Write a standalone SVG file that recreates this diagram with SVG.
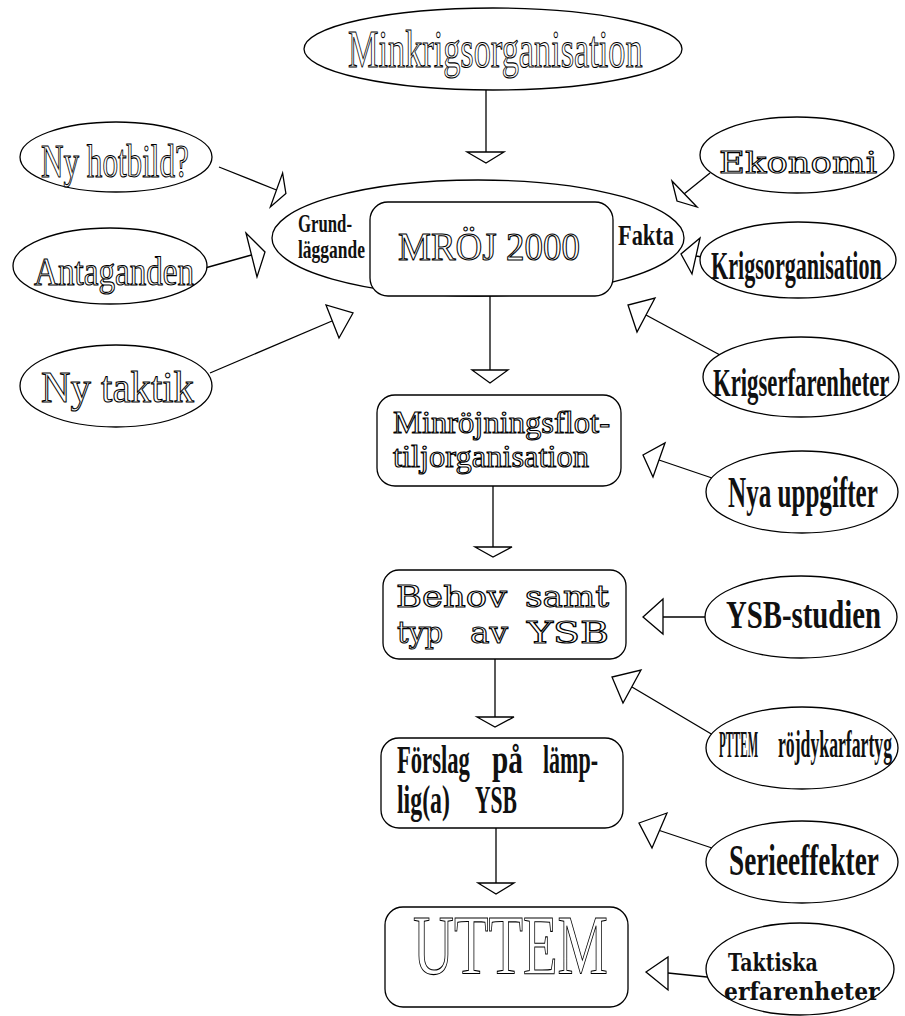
<svg xmlns="http://www.w3.org/2000/svg" width="905" height="1016" viewBox="0 0 905 1016">
<style>
.bg{fill:#fff}
.sh{fill:#fff;stroke:#000;stroke-width:1.3}
.ln{fill:none;stroke:#000;stroke-width:1.3}
.ah{fill:#fff;stroke:#000;stroke-width:1.3;stroke-linejoin:miter}
.ol{font-family:"Liberation Serif","Times New Roman",serif;fill:#fff;stroke:#000;stroke-width:1.1;opacity:0.995}
.olw{font-family:"DejaVu Serif",serif;fill:#fff;stroke:#000;stroke-width:1.1;opacity:0.995}
.bc{font-family:"Liberation Serif","Times New Roman",serif;font-weight:bold;fill:#111}
.bw{font-family:"DejaVu Serif",serif;font-weight:bold;fill:#111}
</style>
<rect class="bg" x="0" y="0" width="905" height="1016"/>

<g id="connectors">
  <line class="ln" x1="486" y1="90" x2="486" y2="152"/>
  <polygon class="ah" points="467,152 504,152 486,163"/>
  <line class="ln" x1="219" y1="167" x2="276.5" y2="190"/>
  <polygon class="ah" points="282.6,173.1 270.4,206.9 285.9,193.4"/>
  <line class="ln" x1="205" y1="268" x2="251.5" y2="255"/>
  <polygon class="ah" points="246,233 257,277 265,252"/>
  <line class="ln" x1="210" y1="373" x2="332" y2="321"/>
  <polygon class="ah" points="326,305 339,338 353,313"/>
  <line class="ln" x1="710" y1="173" x2="684" y2="194"/>
  <polygon class="ah" points="672,181 697,207 677,201"/>
  <line class="ln" x1="702" y1="257" x2="696" y2="256"/>
  <polygon class="ah" points="700,238 692,274 681,254"/>
  <line class="ln" x1="720" y1="355" x2="646" y2="315"/>
  <polygon class="ah" points="655,298 637,332 628,305"/>
  <line class="ln" x1="490" y1="296" x2="490" y2="370"/>
  <polygon class="ah" points="472,370 508,370 490,383"/>
  <line class="ln" x1="712" y1="478" x2="659" y2="460"/>
  <polygon class="ah" points="665,443 653,477 643,455"/>
  <line class="ln" x1="493" y1="486" x2="493" y2="547"/>
  <polygon class="ah" points="475,547 512,547 493,557"/>
  <line class="ln" x1="706" y1="617" x2="663" y2="617"/>
  <polygon class="ah" points="663,599 663,634 643,617"/>
  <line class="ln" x1="495" y1="659" x2="495" y2="717"/>
  <polygon class="ah" points="477,717 514,717 495,727"/>
  <line class="ln" x1="713" y1="735" x2="632" y2="687"/>
  <polygon class="ah" points="641,670 623,703 612,677"/>
  <line class="ln" x1="712" y1="848" x2="659.5" y2="830.5"/>
  <polygon class="ah" points="667,813 652,848 639,823"/>
  <line class="ln" x1="496" y1="828" x2="496" y2="883"/>
  <polygon class="ah" points="478,883 514,883 496,894"/>
  <line class="ln" x1="707" y1="977" x2="668" y2="973"/>
  <polygon class="ah" points="668,957 668,990 646,972"/>
</g>

<g id="minkrigsorganisation">
  <ellipse class="sh" cx="493" cy="49" rx="189" ry="41"/>
  <text class="ol" transform="translate(348,67) scale(0.647,1)" font-size="53">Minkrigsorganisation</text>
</g>

<g id="grund-fakta">
  <ellipse class="sh" cx="478" cy="238" rx="206" ry="58"/>
  <text class="bc" transform="translate(298,232) scale(0.67,1)" font-size="25">Grund-</text>
  <text class="bc" transform="translate(298,258) scale(0.70,1)" font-size="25">läggande</text>
  <text class="bc" transform="translate(618,245) scale(0.77,1)" font-size="29">Fakta</text>
</g>

<g id="mroj2000">
  <rect class="sh" x="370" y="202" width="243" height="94" rx="18" ry="18"/>
  <text class="ol" transform="translate(398,260) scale(0.925,1)" font-size="40">MRÖJ 2000</text>
</g>

<g id="ny-hotbild">
  <ellipse class="sh" cx="116" cy="157" rx="96" ry="35"/>
  <text class="ol" transform="translate(41,177) scale(0.677,1)" font-size="46">Ny hotbild?</text>
</g>

<g id="antaganden">
  <ellipse class="sh" cx="110" cy="266" rx="97" ry="38"/>
  <text class="ol" transform="translate(34,285) scale(0.828,1)" font-size="40">Antaganden</text>
</g>

<g id="ny-taktik">
  <ellipse class="sh" cx="116" cy="386" rx="96" ry="41"/>
  <text class="ol" transform="translate(41,402) scale(0.907,1)" font-size="45">Ny taktik</text>
</g>

<g id="ekonomi">
  <ellipse class="sh" cx="797" cy="155" rx="97" ry="38"/>
  <text class="olw" x="719" y="173" font-size="30" textLength="158" lengthAdjust="spacingAndGlyphs">Ekonomi</text>
</g>

<g id="krigsorganisation">
  <ellipse class="sh" cx="798" cy="260" rx="98" ry="38"/>
  <text class="bc" transform="translate(711,279) scale(0.553,1)" font-size="40">Krigsorganisation</text>
</g>

<g id="krigserfarenheter">
  <ellipse class="sh" cx="801" cy="377" rx="98" ry="40"/>
  <text class="bc" transform="translate(713,396) scale(0.555,1)" font-size="41">Krigserfarenheter</text>
</g>

<g id="minrojningsflottiljorganisation">
  <rect class="sh" x="377" y="395" width="244" height="91" rx="18" ry="18"/>
  <text class="ol" x="393" y="433" font-size="31" textLength="217" lengthAdjust="spacingAndGlyphs">Minröjningsflot-</text>
  <text class="ol" x="393" y="467" font-size="31" textLength="196" lengthAdjust="spacingAndGlyphs">tiljorganisation</text>
</g>

<g id="nya-uppgifter">
  <ellipse class="sh" cx="802" cy="492" rx="96" ry="41"/>
  <text class="bc" transform="translate(728,507) scale(0.558,1)" font-size="45">Nya uppgifter</text>
</g>

<g id="behov-samt-typ-av-ysb">
  <rect class="sh" x="383" y="570" width="243" height="89" rx="16" ry="16"/>
  <text class="olw" x="396" y="607" font-size="30" textLength="111" lengthAdjust="spacingAndGlyphs">Behov</text>
  <text class="olw" x="525" y="607" font-size="30" textLength="84" lengthAdjust="spacingAndGlyphs">samt</text>
  <text class="olw" x="397" y="643" font-size="30" textLength="46" lengthAdjust="spacingAndGlyphs">typ</text>
  <text class="olw" x="470" y="643" font-size="30" textLength="38" lengthAdjust="spacingAndGlyphs">av</text>
  <text class="olw" x="527" y="643" font-size="30" textLength="82" lengthAdjust="spacingAndGlyphs">YSB</text>
</g>

<g id="ysb-studien">
  <ellipse class="sh" cx="801" cy="617" rx="96" ry="41"/>
  <text class="bc" transform="translate(726,628) scale(0.738,1)" font-size="39">YSB-studien</text>
</g>

<g id="pttem-rojdykarfartyg">
  <ellipse class="sh" cx="802" cy="748" rx="96" ry="41"/>
  <text class="bc" transform="translate(719,757) scale(0.289,1)" font-size="38">PTTEM</text>
  <text class="bc" transform="translate(778,757) scale(0.466,1)" font-size="38">röjdykarfartyg</text>
</g>

<g id="forslag-pa-lamplig-ysb">
  <rect class="sh" x="381" y="738" width="242" height="90" rx="18" ry="18"/>
  <text class="bc" transform="translate(397,773) scale(0.58,1)" font-size="39">Förslag</text>
  <text class="bc" transform="translate(492,773) scale(0.75,1)" font-size="39">på</text>
  <text class="bc" transform="translate(543,773) scale(0.564,1)" font-size="39">lämp-</text>
  <text class="bc" transform="translate(397,813) scale(0.611,1)" font-size="39">lig(a)</text>
  <text class="bc" transform="translate(475,813) scale(0.553,1)" font-size="39">YSB</text>
</g>

<g id="serieeffekter">
  <ellipse class="sh" cx="802" cy="862" rx="96" ry="41"/>
  <text class="bc" transform="translate(729,875) scale(0.62,1)" font-size="44">Serieeffekter</text>
</g>

<g id="uttem">
  <rect class="sh" x="385" y="907" width="243" height="100" rx="18" ry="18"/>
  <text class="ol" transform="translate(413,974) scale(0.674,1)" font-size="84">UTTEM</text>
</g>

<g id="taktiska-erfarenheter">
  <ellipse class="sh" cx="800" cy="969" rx="94" ry="46"/>
  <text class="bw" transform="translate(728,971) scale(0.758,1)" font-size="25">Taktiska</text>
  <text class="bw" transform="translate(724,1000) scale(0.875,1)" font-size="25">erfarenheter</text>
</g>
</svg>
